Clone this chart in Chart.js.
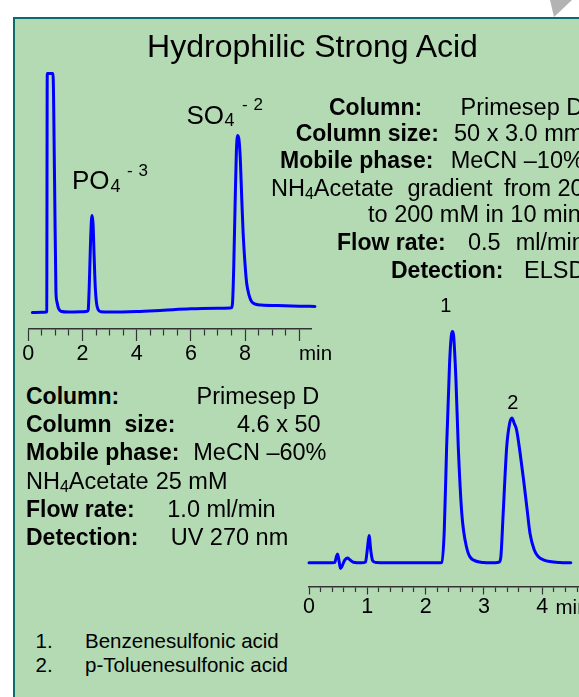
<!DOCTYPE html>
<html>
<head>
<meta charset="utf-8">
<script src="https://cdn.jsdelivr.net/npm/chart.js@4"></script>
<style>
  html, body { margin:0; padding:0; }
  body { width:579px; height:697px; overflow:hidden; background:#fff; position:relative;
         font-family:'Liberation Sans', Arial, sans-serif; }
  #panel { position:absolute; left:13px; top:17px; width:620px; height:720px; background:#b4dab4;
           border-top:2px solid #0b6a6a; border-left:2px solid #0b6a6a; }
  #curl { position:absolute; left:548px; top:0; width:26px; height:18px; background:#b3b3b3;
          clip-path: polygon(2px 0, 24px 0, 6px 17px); }
  canvas { position:absolute; }
  .t { position:absolute; white-space:pre; line-height:1; color:#000; font-family:'Liberation Sans', Arial, sans-serif; }
  .b { font-weight:bold; }
  .s23 { font-size:23px; }
  .r23 { font-size:23.5px; }
  .sub { font-size:16px; position:relative; top:3px; }
</style>
</head>
<body>
<div id="panel"></div>
<div id="curl"></div>

<canvas id="topChart" width="340" height="340" style="left:0px; top:40px;"></canvas>
<canvas id="botChart" width="289" height="360" style="left:290px; top:280px;"></canvas>

<!-- title -->
<div class="t" style="font-size:32px; left:312.5px; top:30.2px; transform:translateX(-50%);">Hydrophilic Strong Acid</div>

<!-- peak labels, top chart -->
<div class="t" style="font-size:26px; left:72px; top:167.3px;">PO</div>
<div class="t" style="font-size:18px; left:110.5px; top:176.5px;">4</div>
<div class="t" style="font-size:17px; left:127px; top:161.6px; letter-spacing:0.5px;">- 3</div>
<div class="t" style="font-size:26px; left:186.4px; top:102.3px;">SO</div>
<div class="t" style="font-size:18px; left:224.5px; top:110.8px;">4</div>
<div class="t" style="font-size:17px; left:242px; top:96.3px; letter-spacing:0.5px;">- 2</div>
<div class="t" style="font-size:20.5px; left:299px; top:343.4px;">min</div>

<!-- right conditions block -->
<div class="t s23 b" style="left:329px; top:95.5px;">Column:</div>
<div class="t r23" style="left:460.5px; top:95.5px;">Primesep D</div>
<div class="t s23 b" style="left:295.7px; top:122.2px;">Column size:</div>
<div class="t r23" style="left:454px; top:122.2px;">50 x 3.0 mm</div>
<div class="t s23 b" style="left:280px; top:148.8px;">Mobile phase:</div>
<div class="t r23" style="left:450.7px; top:148.8px;">MeCN –10%</div>
<div class="t r23" style="left:271px; top:177.2px;">NH<span class="sub">4</span>Acetate</div>
<div class="t r23" style="left:407.5px; top:177.2px;">gradient</div>
<div class="t r23" style="left:504px; top:177.2px;">from 20</div>
<div class="t r23" style="left:368px; top:203.2px;">to 200 mM in 10 min</div>
<div class="t s23 b" style="left:337px; top:231.2px;">Flow rate:</div>
<div class="t r23" style="left:468px; top:231.2px;">0.5</div>
<div class="t r23" style="left:515.7px; top:231.2px;">ml/min</div>
<div class="t s23 b" style="left:391px; top:258.8px;">Detection:</div>
<div class="t r23" style="left:524px; top:258.8px;">ELSD</div>

<!-- left conditions block -->
<div class="t s23 b" style="left:26px; top:384.5px;">Column:</div>
<div class="t r23" style="left:196.5px; top:384.5px;">Primesep D</div>
<div class="t s23 b" style="left:26px; top:413px;">Column  size:</div>
<div class="t r23" style="left:237px; top:413px;">4.6 x 50</div>
<div class="t s23 b" style="left:26px; top:441px;">Mobile phase:</div>
<div class="t r23" style="left:193.3px; top:441px;">MeCN –60%</div>
<div class="t r23" style="left:26px; top:469.5px;">NH<span class="sub">4</span>Acetate</div>
<div class="t r23" style="left:155.7px; top:469.5px;">25 mM</div>
<div class="t s23 b" style="left:26px; top:498px;">Flow rate:</div>
<div class="t r23" style="left:167.3px; top:498px;">1.0 ml/min</div>
<div class="t s23 b" style="left:26px; top:526px;">Detection:</div>
<div class="t r23" style="left:170.7px; top:526px;">UV 270 nm</div>

<!-- bottom chart peak labels -->
<div class="t" style="font-size:20px; left:445.7px; top:294.8px; transform:translateX(-50%);">1</div>
<div class="t" style="font-size:20px; left:512.7px; top:392.1px; transform:translateX(-50%);">2</div>
<div class="t" style="font-size:20.5px; left:555.5px; top:597.3px;">min</div>

<!-- compound list -->
<div class="t" style="font-size:20.5px; left:35.5px; top:631px;">1.</div>
<div class="t" style="font-size:20.5px; left:85px; top:631px;">Benzenesulfonic acid</div>
<div class="t" style="font-size:20.5px; left:35.5px; top:654.5px;">2.</div>
<div class="t" style="font-size:20.5px; left:85px; top:654.5px;">p-Toluenesulfonic acid</div>

<script>
// ---------- data ----------
// Top chromatogram (Hydrophilic strong acid anions, ELSD) : time in min, detector signal (a.u.)
const topTimes = [0.15, 0.5, 0.66, 0.68, 0.70, 0.91, 0.97, 1.02, 1.06, 1.11, 1.2, 1.5, 2.0, 2.18,
  2.21, 2.25, 2.29, 2.33, 2.36, 2.39, 2.43, 2.47, 2.52, 2.58, 2.68, 3.0, 4.0, 5.0, 6.0, 7.0, 7.45,
  7.50, 7.54, 7.58, 7.63, 7.68, 7.73, 7.78, 7.83, 7.88, 7.93, 8.0, 8.06, 8.15, 8.24, 8.4, 8.6, 9.2, 10.0, 10.58];
const topSignal = [6.1, 6.2, 6.3, 6.5, 95, 95, 55, 14, 10, 7.8, 6.6, 6.3, 6.4, 6.6,
  7, 16, 30, 40.5, 42.2, 39, 27, 16, 9.5, 7.2, 6.4, 6.3, 6.5, 7.0, 7.5, 7.7, 7.8,
  7.9, 10, 22, 45, 66, 71.9, 70, 62, 48, 35.5, 24, 17, 12.5, 10.2, 9.2, 8.9, 8.7, 8.5, 8.4];
const topMajorTicks = [0, 2, 4, 6, 8, 10];
const topTickLabels = ['0', '2', '4', '6', '8', ''];

// Bottom chromatogram (sulfonic acids, UV 270 nm)
const botTimes = [0.0, 0.3, 0.44, 0.47, 0.49, 0.52, 0.54, 0.57, 0.61, 0.66, 0.70, 0.76, 0.9,
  0.97, 1.0, 1.03, 1.06, 1.09, 1.15, 1.6, 2.2,
  2.28, 2.32, 2.36, 2.41, 2.44, 2.46, 2.48, 2.52, 2.56, 2.62, 2.70, 2.82, 3.0, 3.2,
  3.26, 3.29, 3.33, 3.39, 3.44, 3.48, 3.52, 3.56, 3.62, 3.68, 3.74, 3.79, 3.86, 3.93, 4.03, 4.13, 4.3, 4.49];
const botSignal = [8.0, 8.0, 8.1, 10, 11, 8, 6.1, 7.0, 8.8, 9.6, 9.0, 8.2, 8.0,
  8.3, 12.5, 17.2, 12, 8.8, 8.1, 8.0, 8.0,
  8.1, 19, 47, 75, 84.5, 86, 84.5, 69.6, 47, 24.7, 13.4, 8.9, 8.1, 8.0,
  8.2, 10, 24.7, 47, 55, 56.8, 55, 52.8, 45, 35.9, 26, 17.9, 12.5, 10.1, 8.9, 8.4, 8.1, 8.0];
const botMajorTicks = [0, 1, 2, 3, 4];
const botTickLabels = ['0', '1', '2', '3', '4'];

// ---------- helpers ----------
const near = (a, b) => Math.abs(a - b) < 1e-6;
function labelFor(majors, labels) {
  return (v) => { const i = majors.findIndex(m => near(m, v)); return i >= 0 ? labels[i] : ''; };
}
function isMajorIn(majors) { return (v) => majors.some(m => near(m, v)); }

function makeChart(id, times, signal, opts) {
  const isMajor = isMajorIn(opts.majors);
  return new Chart(document.getElementById(id), {
    type: 'line',
    data: {
      datasets: [{
        data: times.map((t, i) => ({ x: t, y: signal[i] })),
        borderColor: '#0000ff',
        borderWidth: 3,
        pointRadius: 0,
        fill: false,
        cubicInterpolationMode: 'monotone',
        borderJoinStyle: 'round',
        borderCapStyle: 'round',
        clip: false
      }]
    },
    options: {
      responsive: false,
      animation: false,
      devicePixelRatio: 1,
      layout: { padding: opts.padding },
      plugins: { legend: { display: false }, tooltip: { enabled: false }, title: { display: false } },
      scales: {
        x: {
          type: 'linear',
          min: 0,
          max: opts.max,
          afterFit: (scale) => { scale.height = opts.axisHeight; },
          border: { display: true, color: '#333', width: 1.5 },
          grid: {
            display: true,
            drawOnChartArea: false,
            drawTicks: true,
            tickLength: opts.tickLength,
            tickColor: '#333',
            tickWidth: 1.2,
            tickBorderDash: (ctx) => (ctx.tick && isMajor(ctx.tick.value)) ? [] : [opts.minorLength, 100]
          },
          ticks: {
            stepSize: opts.step,
            autoSkip: false,
            includeBounds: false,
            maxRotation: 0,
            minRotation: 0,
            padding: opts.labelPad,
            color: '#000',
            font: { family: "'Liberation Sans', Arial, sans-serif", size: 21.5 },
            callback: labelFor(opts.majors, opts.labels)
          }
        },
        y: { display: false, min: 0, max: 100 }
      }
    }
  });
}

makeChart('topChart', topTimes, topSignal, {
  max: 10.46, step: 0.5, majors: topMajorTicks, labels: topTickLabels,
  padding: { left: 28.3, right: 28.3, top: 20, bottom: 0 },
  axisHeight: 51, tickLength: 12, minorLength: 6, labelPad: 0
});
makeChart('botChart', botTimes, botSignal, {
  max: 4.63, step: 0.2, majors: botMajorTicks, labels: botTickLabels,
  padding: { left: 19, right: 0, top: 10, bottom: 0 },
  axisHeight: 53.5, tickLength: 8, minorLength: 4.5, labelPad: 0
});
</script>
</body>
</html>
